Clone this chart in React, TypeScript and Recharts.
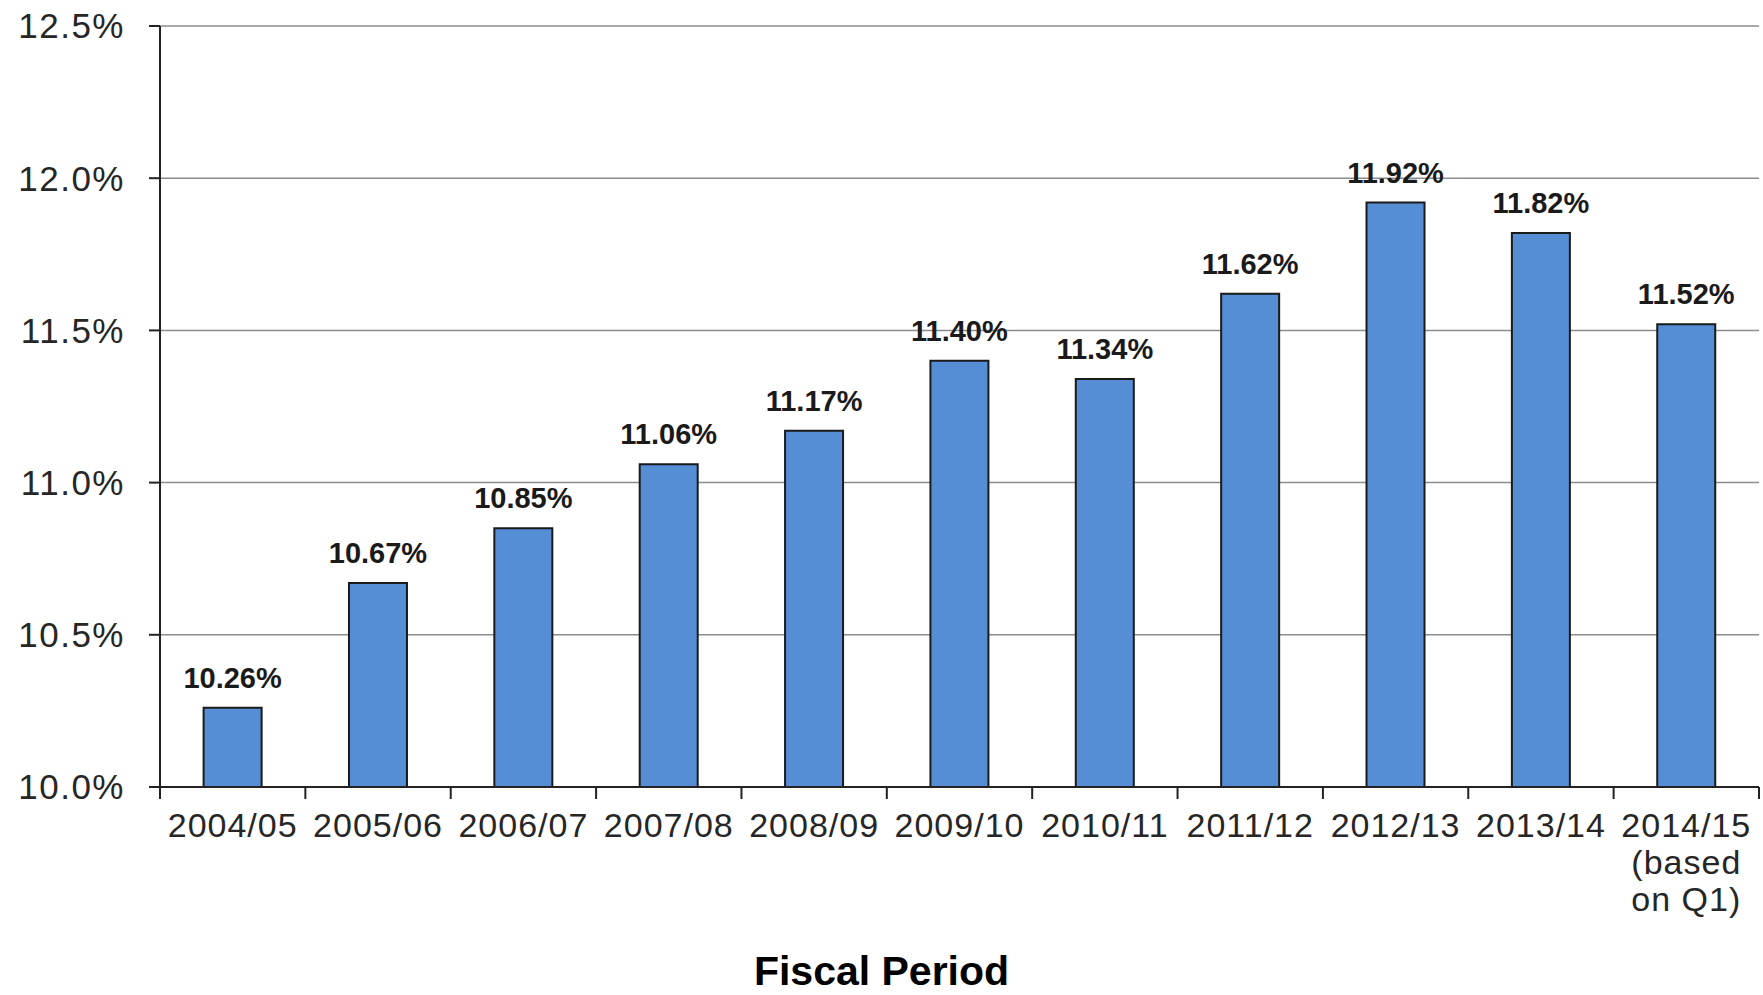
import { Bar, BarChart, CartesianGrid, LabelList, XAxis, YAxis } from "recharts";

const CHART_W = 1763;
const CHART_H = 995;
const AXIS_W = 160;
const RIGHT = 4;

const periods = [
  "2004/05",
  "2005/06",
  "2006/07",
  "2007/08",
  "2008/09",
  "2009/10",
  "2010/11",
  "2011/12",
  "2012/13",
  "2013/14",
  "2014/15\n(based\non Q1)",
];
const rates = [10.26, 10.67, 10.85, 11.06, 11.17, 11.4, 11.34, 11.62, 11.92, 11.82, 11.52];
const yTicks = [10, 10.5, 11, 11.5, 12, 12.5];

const data = periods.map((p, i) => ({ period: p, rate: rates[i] }));

const FONT = "'Liberation Sans', Arial, sans-serif";
const step = (CHART_W - AXIS_W - RIGHT) / periods.length;

// category label centred, tick marks drawn on the category boundaries
function PeriodTick(props: any) {
  const { x, y, payload, index } = props;
  const half = payload?.offset || step / 2;
  const lines = String(payload.value).split("\n");
  const axisY = y - 16;
  return (
    <g>
      <line x1={x - half} x2={x - half} y1={axisY} y2={axisY + 12} stroke="#222" strokeWidth={2} />
      {index === periods.length - 1 && (
        <line x1={x + half} x2={x + half} y1={axisY} y2={axisY + 12} stroke="#222" strokeWidth={2} />
      )}
      <text x={x} y={y} textAnchor="middle" fill="#262626" fontSize={34} letterSpacing={1} fontFamily={FONT}>
        {lines.map((l, i) => (
          <tspan key={i} x={x} dy={i === 0 ? 34 : 37}>
            {l}
          </tspan>
        ))}
      </text>
    </g>
  );
}

export default function App() {
  return (
    <div style={{ position: "absolute", left: 0, top: 0, width: CHART_W, height: CHART_H, background: "#fff" }}>
      <BarChart
        width={CHART_W}
        height={CHART_H}
        data={data}
        margin={{ top: 26, right: RIGHT, left: 0, bottom: 0 }}
        barCategoryGap="30%"
      >
        <CartesianGrid vertical={false} stroke="#8c8c8c" strokeWidth={1.5} />
        <XAxis
          dataKey="period"
          height={208}
          interval={0}
          tickLine={false}
          tickSize={12}
          tickMargin={4}
          axisLine={{ stroke: "#222", strokeWidth: 2 }}
          tick={<PeriodTick />}
        />
        <YAxis
          width={AXIS_W}
          domain={[10, 12.5]}
          ticks={yTicks}
          interval={0}
          tickSize={11}
          tickMargin={24}
          tickLine={{ stroke: "#222", strokeWidth: 2 }}
          axisLine={{ stroke: "#222", strokeWidth: 2 }}
          tick={{ fill: "#262626", fontSize: 35, letterSpacing: 1.5, fontFamily: FONT }}
          tickFormatter={(v: number) => `${v.toFixed(1)}%`}
        />
        <Bar dataKey="rate" fill="#558ed5" stroke="#1a1a1a" strokeWidth={2} isAnimationActive={false}>
          <LabelList
            dataKey="rate"
            position="top"
            offset={20}
            formatter={(v: any) => `${Number(v).toFixed(2)}%`}
            style={{ fill: "#1a1a1a", fontSize: 29, fontWeight: 700, fontFamily: FONT }}
          />
        </Bar>
      </BarChart>
      <svg width={CHART_W} height={CHART_H} style={{ position: "absolute", left: 0, top: 0, pointerEvents: "none" }}>
        <text x={CHART_W / 2} y={985} textAnchor="middle" fontSize={41} fontWeight={700} fontFamily={FONT} fill="#000">
          Fiscal Period
        </text>
      </svg>
    </div>
  );
}
